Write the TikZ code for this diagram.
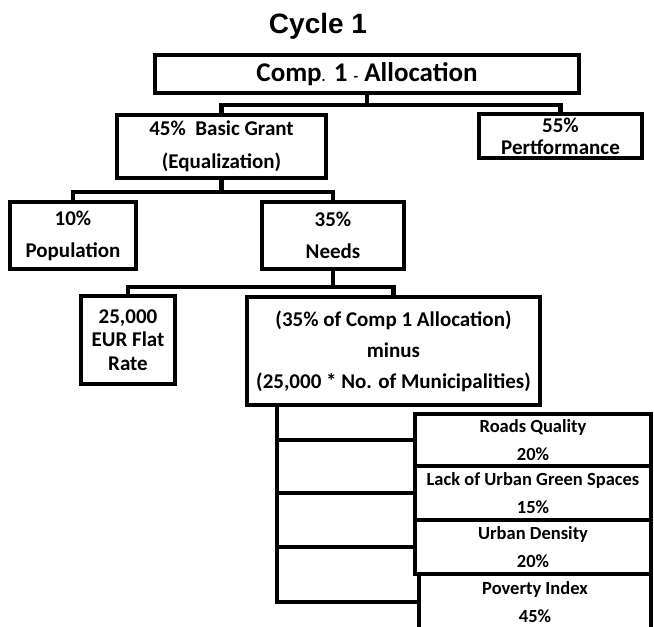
\documentclass[tikz,border=0pt]{standalone}
\usepackage{fontspec}
\setmainfont{Carlito}
\newfontfamily\titlefont{Liberation Sans}
\begin{document}
\begin{tikzpicture}[x=1pt,y=-1pt,
  box/.style={draw, line width=4.8pt, rectangle, inner sep=0pt, align=center,
    font=\bfseries\fontsize{21}{32}\selectfont},
  subbox/.style={draw, line width=3.8pt, rectangle, inner sep=0pt, align=center,
    minimum width=236pt, font=\bfseries\fontsize{18.5}{28}\selectfont},
  conn/.style={line width=4.8pt}]
\clip (0,0) rectangle (654,627);
% title
\node[anchor=base, font=\titlefont\bfseries\fontsize{28}{34}\selectfont] (title) at (318,33) {Cycle 1};
% boxes
\node[box, minimum width=424pt, minimum height=38pt, font=\bfseries\fontsize{27}{32}\selectfont] (comp) at (367,74)
  {Comp{\fontsize{15}{15}\selectfont.} 1 {\fontsize{15}{15}\selectfont-} Allocation};
\node[box, minimum width=163pt, minimum height=44pt, font=\bfseries\fontsize{21}{22}\selectfont] (perf) at (560.5,136)
  {55\%\\Pertformance};
\node[box, minimum width=209pt, minimum height=63pt, font=\bfseries\fontsize{21}{33}\selectfont] (basic) at (221.5,146.5)
  {45\%\ \ Basic Grant\\(Equalization)};
\node[box, minimum width=126pt, minimum height=67pt] (pop) at (73,235.5) {10\%\\Population};
\node[box, minimum width=142pt, minimum height=67pt] (needs) at (333,235.5) {35\%\\Needs};
\node[box, minimum width=94pt, minimum height=88pt, font=\bfseries\fontsize{21}{23.5}\selectfont] (flat) at (128,340)
  {25,000\\EUR Flat\\Rate};
\node[box, minimum width=293pt, minimum height=108pt, font=\bfseries\fontsize{21}{31}\selectfont] (big) at (393.5,351)
  {(35\% of Comp 1 Allocation)\\minus\\(25,000 * No. of Municipalities)};
% lower boxes
\node[subbox, minimum height=52pt] (r1) at (533,440) {Roads Quality\\20\%};
\node[subbox, minimum height=54pt] (r2) at (533,493) {Lack of Urban Green Spaces\\15\%};
\node[subbox, minimum height=54pt] (r3) at (533,547) {Urban Density\\20\%};
\node[subbox, minimum width=232pt, minimum height=56pt] (r4) at (535,602) {Poverty Index\\45\%};
% junctions
\coordinate (j1) at (367,105);
\coordinate (j2) at (221.5,192);
\coordinate (j3) at (333,287);
\coordinate (tk) at (277,407);
% connectors
\draw[conn] (comp.south) -- (j1);
\draw[conn] (basic.north) |- (j1) -| (perf.north);
\draw[conn] (basic.south) -- (j2);
\draw[conn] (pop.north) |- (j2) -| (needs.north);
\draw[conn] (needs.south) -- (j3);
\draw[conn] (flat.north) |- (j3) -| (big.north);
\draw[conn] (tk |- big.south) |- (r4.west);
\draw[conn] (tk |- r1.west) -- (r1.west);
\draw[conn] (tk |- r2.west) -- (r2.west);
\draw[conn] (tk |- r3.west) -- (r3.west);
\end{tikzpicture}
\end{document}
